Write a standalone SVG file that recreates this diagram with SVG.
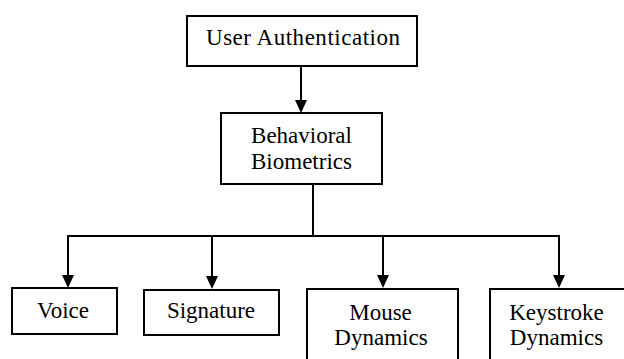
<svg xmlns="http://www.w3.org/2000/svg" width="624" height="359" viewBox="0 0 624 359">
  <style>
    .box { fill: #ffffff; stroke: #000000; stroke-width: 2; }
    .wire { fill: none; stroke: #000000; stroke-width: 2; }
    .head { fill: #000000; }
  </style>
  <rect width="624" height="359" fill="#ffffff"/>

  <!-- tree connectors: vertical drops from a shared horizontal bus -->
  <g id="connectors">
    <line class="wire" x1="301" y1="66" x2="301" y2="101"/>
    <path class="wire" d="M313,184 V236"/>
    <path class="wire" d="M67,236 H560"/>
    <line class="wire" x1="68" y1="236" x2="68" y2="276"/>
    <line class="wire" x1="212" y1="236" x2="212" y2="277"/>
    <line class="wire" x1="383" y1="236" x2="383" y2="276"/>
    <line class="wire" x1="559" y1="236" x2="559" y2="276"/>
    <path class="head" d="M295,100 L307,100 L301,113 Z"/>
    <path class="head" d="M62,275 L74,275 L68,288 Z"/>
    <path class="head" d="M206,276 L218,276 L212,289 Z"/>
    <path class="head" d="M377,275 L389,275 L383,288 Z"/>
    <path class="head" d="M553,275 L565,275 L559,288 Z"/>
  </g>

  <g id="user-authentication">
    <rect class="box" x="187" y="16" width="230" height="50"/>
    <text x="303" y="45" font-family="Liberation Serif" font-size="23" text-anchor="middle" textLength="194" lengthAdjust="spacing">User Authentication</text>
  </g>

  <g id="behavioral-biometrics">
    <rect class="box" x="221" y="113" width="161" height="71"/>
    <text x="301.5" y="143" font-family="Liberation Serif" font-size="23" text-anchor="middle">Behavioral</text>
    <text x="301.5" y="169" font-family="Liberation Serif" font-size="23" text-anchor="middle">Biometrics</text>
  </g>

  <g id="voice">
    <rect class="box" x="12" y="288" width="105" height="46"/>
    <text x="63" y="318" font-family="Liberation Serif" font-size="23" text-anchor="middle">Voice</text>
  </g>

  <g id="signature">
    <rect class="box" x="144" y="290" width="135" height="45"/>
    <text x="211" y="318" font-family="Liberation Serif" font-size="23" text-anchor="middle">Signature</text>
  </g>

  <g id="mouse-dynamics">
    <rect class="box" x="307" y="289" width="151" height="80"/>
    <text x="380.5" y="320" font-family="Liberation Serif" font-size="23" text-anchor="middle">Mouse</text>
    <text x="381" y="345" font-family="Liberation Serif" font-size="23" text-anchor="middle">Dynamics</text>
  </g>

  <g id="keystroke-dynamics">
    <rect class="box" x="490" y="289" width="150" height="80"/>
    <text x="556.5" y="320" font-family="Liberation Serif" font-size="23" text-anchor="middle">Keystroke</text>
    <text x="556.5" y="345" font-family="Liberation Serif" font-size="23" text-anchor="middle">Dynamics</text>
  </g>
</svg>
